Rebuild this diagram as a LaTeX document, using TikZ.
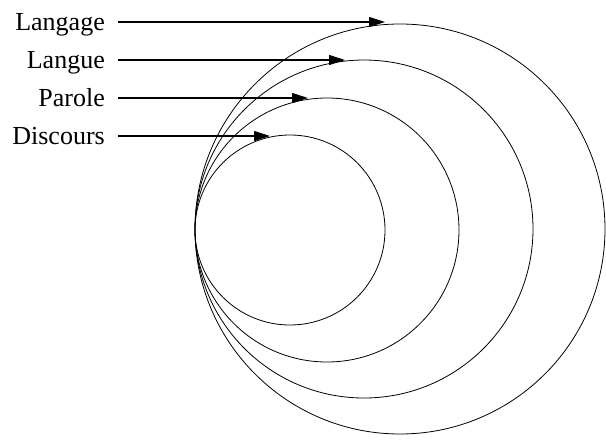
\documentclass[tikz,border=0pt]{standalone}
\usepackage{fontspec}
\setmainfont{Liberation Serif}
\usetikzlibrary{arrows.meta}
\begin{document}
\begin{tikzpicture}[x=1pt,y=-1pt,
  ring/.style={draw=black,line width=0.8pt},
  lab/.style={anchor=base east,inner sep=0pt,font=\fontsize{26}{26}\selectfont},
  pointer/.style={line width=1.1pt,-{Triangle[length=16pt,width=10pt]}}]
\useasboundingbox (0,0) rectangle (606,440);
\draw[ring] (400,229) circle[radius=205];
\draw[ring] (364,229) circle[radius=169];
\draw[ring] (327,230) circle[radius=132];
\draw[ring] (290,230) circle[radius=95];
\node[lab] (l1) at (105,30) {Langage};
\node[lab] (l2) at (105,68) {Langue};
\node[lab] (l3) at (105,106) {Parole};
\node[lab] (l4) at (105,144) {Discours};
\coordinate (t1) at (385,22);
\coordinate (t2) at (345,60);
\coordinate (t3) at (308,98);
\coordinate (t4) at (270,136);
\draw[pointer] (118,22) -- (t1);
\draw[pointer] (118,60) -- (t2);
\draw[pointer] (118,98) -- (t3);
\draw[pointer] (118,136) -- (t4);
\end{tikzpicture}
\end{document}
